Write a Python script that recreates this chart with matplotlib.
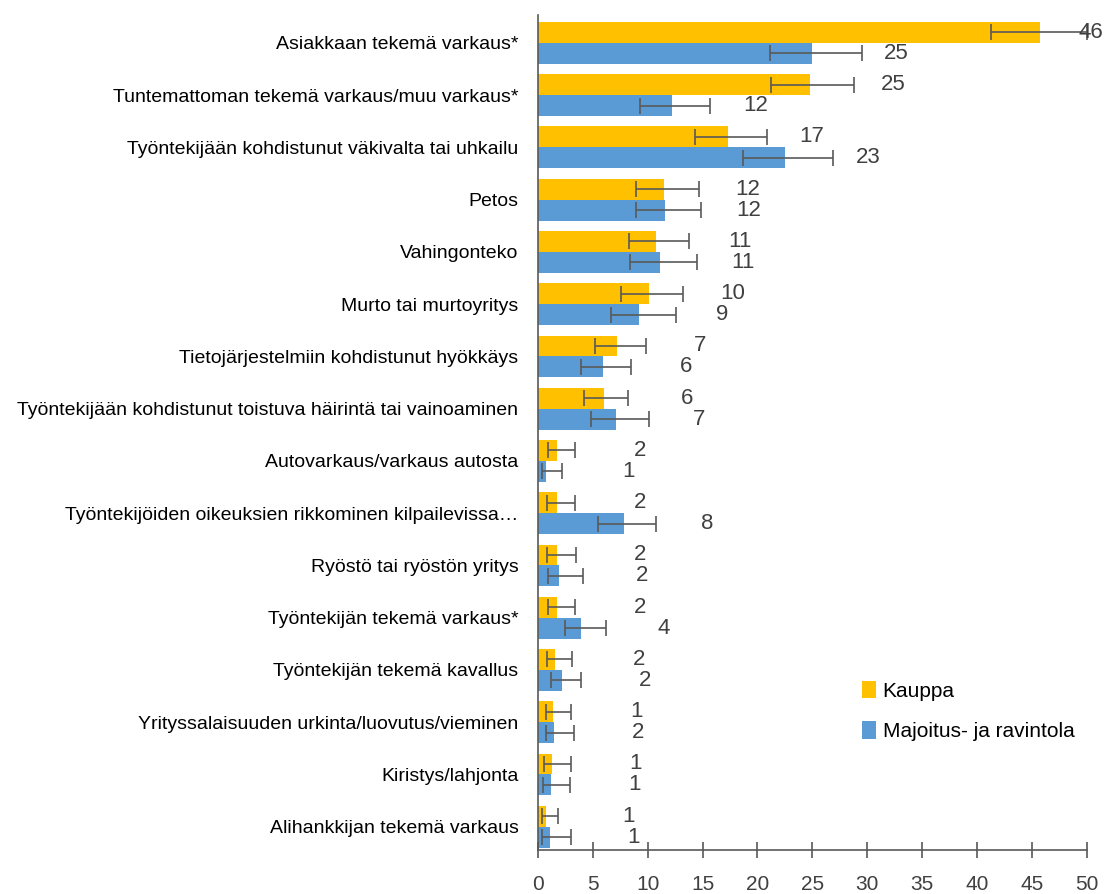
import matplotlib.pyplot as plt
import numpy as np

plt.rcParams['font.family'] = ['Liberation Sans', 'DejaVu Sans']

# --- DATOS ---
categorias = [
    "Asiakkaan tekemä varkaus*",
    "Tuntemattoman tekemä varkaus/muu varkaus*",
    "Työntekijään kohdistunut väkivalta tai uhkailu",
    "Petos",
    "Vahingonteko",
    "Murto tai murtoyritys",
    "Tietojärjestelmiin kohdistunut hyökkäys",
    "Työntekijään kohdistunut toistuva häirintä tai vainoaminen",
    "Autovarkaus/varkaus autosta",
    "Työntekijöiden oikeuksien rikkominen kilpailevissa…",
    "Ryöstö tai ryöstön yritys",
    "Työntekijän tekemä varkaus*",
    "Työntekijän tekemä kavallus",
    "Yrityssalaisuuden urkinta/luovutus/vieminen",
    "Kiristys/lahjonta",
    "Alihankkijan tekemä varkaus",
]

kauppa = [45.7, 24.8, 17.3, 11.5, 10.8, 10.1, 7.2, 6.0, 1.7, 1.7, 1.7, 1.7, 1.6, 1.4, 1.3, 0.7]
kauppa_min = [41.3, 21.2, 14.3, 8.9, 8.3, 7.6, 5.2, 4.2, 0.9, 0.8, 0.8, 0.9, 0.8, 0.7, 0.6, 0.4]
kauppa_max = [50.0, 28.8, 20.9, 14.7, 13.8, 13.2, 9.85, 8.2, 3.4, 3.4, 3.5, 3.4, 3.1, 3.0, 3.0, 1.8]
kauppa_lbl = ["46", "25", "17", "12", "11", "10", "7", "6", "2", "2", "2", "2", "2", "1", "1", "1"]

majoitus = [25.0, 12.2, 22.5, 11.6, 11.1, 9.2, 5.9, 7.1, 0.7, 7.8, 1.9, 3.9, 2.2, 1.5, 1.2, 1.1]
majoitus_min = [21.1, 9.3, 18.7, 8.9, 8.4, 6.7, 3.9, 4.8, 0.35, 5.45, 0.9, 2.5, 1.2, 0.7, 0.5, 0.4]
majoitus_max = [29.5, 15.7, 26.9, 14.9, 14.5, 12.6, 8.5, 10.15, 2.2, 10.8, 4.1, 6.25, 3.9, 3.3, 2.9, 3.0]
majoitus_lbl = ["25", "12", "23", "12", "11", "9", "6", "7", "1", "8", "2", "4", "2", "2", "1", "1"]

# --- GRAFICO ---
fig = plt.figure(figsize=(11.09, 8.94), dpi=100)
ax = fig.add_axes([0.485, 0.049, 0.495, 0.934])

y = np.arange(len(categorias))
h = 0.4
k = np.array(kauppa)
m = np.array(majoitus)

ax.barh(y - h/2, k, height=h, color='#FFC000', label='Kauppa')
ax.barh(y + h/2, m, height=h, color='#5B9BD5', label='Majoitus- ja ravintola')

ax.errorbar(k, y - h/2, xerr=[k - np.array(kauppa_min), np.array(kauppa_max) - k],
            fmt='none', ecolor='#595959', elinewidth=1.2, capsize=6, capthick=1.2)
ax.errorbar(m, y + h/2, xerr=[m - np.array(majoitus_min), np.array(majoitus_max) - m],
            fmt='none', ecolor='#595959', elinewidth=1.2, capsize=6, capthick=1.2)

# etiquetas de valores
for i in range(len(categorias)):
    ax.text(min(k[i] + 7.6, 50.4), y[i] - h/2, kauppa_lbl[i], ha='center', va='center',
            fontsize=16, color='#404040', clip_on=False)
    ax.text(min(m[i] + 7.6, 50.4), y[i] + h/2, majoitus_lbl[i], ha='center', va='center',
            fontsize=16, color='#404040', clip_on=False)

# --- DETALLES ---
ax.set_xlim(0, 50)
ax.set_ylim(15.45, -0.53)
ax.set_xticks(np.arange(0, 51, 5))
ax.set_yticks(y)
ax.set_yticklabels(categorias, fontsize=14, color='black')
ax.tick_params(axis='y', length=0, pad=14)
ax.tick_params(axis='x', direction='inout', length=12, width=1.2, color='#595959',
               labelsize=15, labelcolor='#404040', pad=12)
for s in ['top', 'right']:
    ax.spines[s].set_visible(False)
for s in ['left', 'bottom']:
    ax.spines[s].set_color('#595959')
    ax.spines[s].set_linewidth(1.2)

ax.legend(loc='upper left', bbox_to_anchor=(843/1109, 1 - 662/894), bbox_transform=fig.transFigure,
          frameon=False, fontsize=15, handlelength=0.7, handleheight=0.9, handletextpad=0.3,
          labelspacing=1.0)

plt.savefig('out.png', dpi=100)
